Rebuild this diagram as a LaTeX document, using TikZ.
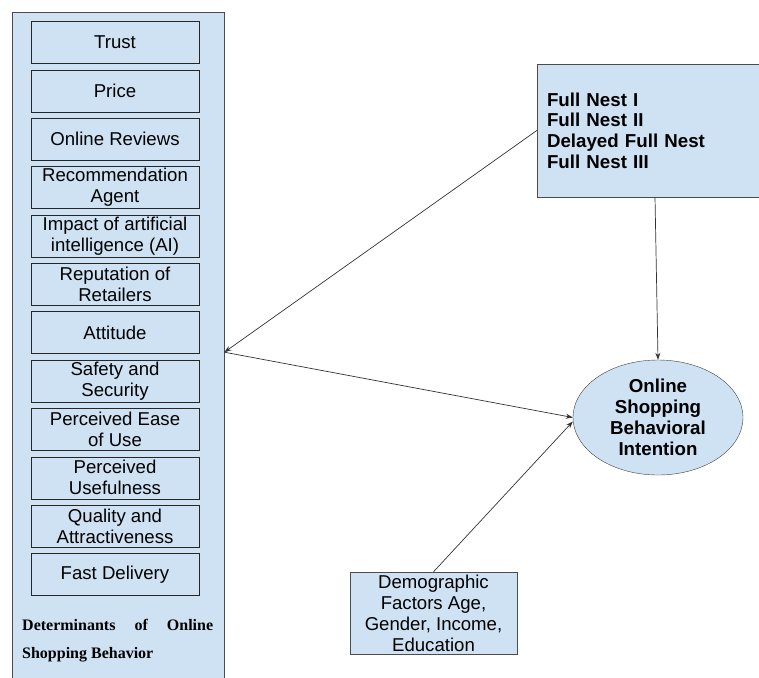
\documentclass[tikz,border=0pt]{standalone}
\usepackage{fontspec}
\setmainfont{Liberation Sans}
\newfontfamily\serifbf{Liberation Serif}
\usetikzlibrary{shapes.geometric,arrows.meta}
\definecolor{paleblue}{HTML}{CFE2F3}
\tikzset{
  factor/.style={draw=black!85, fill=paleblue, minimum width=168pt, minimum height=42pt,
    inner sep=1pt, align=center, font=\fontsize{18.6}{21}\selectfont},
  link/.style={->, draw=black!80, line width=0.7pt},
}
\begin{document}
\begin{tikzpicture}[x=1pt, y=-1pt, >={Stealth[length=7pt,width=5pt]}]
  \clip (0,0) rectangle (759,677);

  % Determinanten-Spalte
  \node[draw=black!70, fill=paleblue, minimum width=212pt, minimum height=680pt,
    inner sep=0pt, anchor=north west] (panel) at (12,12) {};

  \foreach \lbl [count=\i] in {Trust, Price, Online Reviews, {Recommendation\\Agent},
      {Impact of artificial\\intelligence (AI)}, {Reputation of\\Retailers}, Attitude,
      {Safety and\\Security}, {Perceived Ease\\of Use}, {Perceived\\Usefulness},
      {Quality and\\Attractiveness}, Fast Delivery}
    \node[factor] (f\i) at (115,{48.36*\i-5.86}) {\lbl};

  \node[anchor=north west, align=left, inner sep=0pt,
    font=\serifbf\bfseries\fontsize{16}{28}\selectfont] (dlabel) at (22,619)
    {\makebox[191pt][s]{Determinants of Online}\\Shopping Behavior};

  % Lebenszyklus
  \node[draw=black!70, fill=paleblue, text width=208pt, inner xsep=10pt,
    minimum height=133pt, align=left, font=\bfseries\fontsize{18.7}{20.7}\selectfont]
    (nest) at (651,130.5) {Full Nest I\\Full Nest II\\Delayed Full Nest\\Full Nest III};

  % Absicht
  \node[ellipse, draw=black!75, fill=paleblue, minimum width=170pt, minimum height=115pt,
    inner sep=0pt, align=center, font=\bfseries\fontsize{18.7}{21}\selectfont]
    (intent) at (658,417.5) {Online\\Shopping\\Behavioral\\Intention};

  % Demografie
  \node[factor, draw=black!70, minimum width=167pt, minimum height=82pt] (demo) at (433.5,613)
    {Demographic\\Factors Age,\\Gender, Income,\\Education};

  % Pfeile
  \draw[link] (nest.west) -- (panel.east);
  \draw[link] (panel.east) -- (intent.west);
  \draw[link] ([xshift=4pt]nest.south) -- (intent.north);
  \draw[link] (demo.north) -- ([yshift=-4pt]intent.west);
\end{tikzpicture}
\end{document}
